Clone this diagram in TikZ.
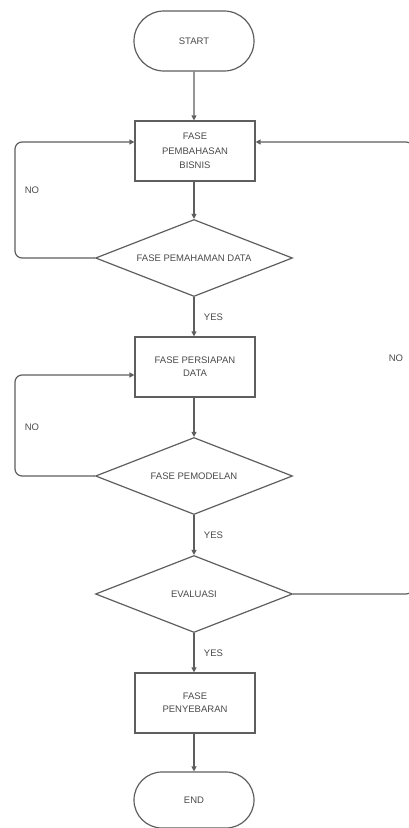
\documentclass[tikz,border=0pt]{standalone}
\usepackage{fontspec}
\setmainfont{Liberation Sans}
\usetikzlibrary{shapes.geometric,shapes.misc,arrows.meta}
\definecolor{linegray}{HTML}{5E5E5E}
\definecolor{textgray}{HTML}{4A4A4A}
\begin{document}
\begin{tikzpicture}[x=1pt,y=-1pt,
    every node/.style={font=\fontsize{9.5}{13}\selectfont, text=textgray},
    terminal/.style={draw=linegray, line width=1.2pt, rounded rectangle, minimum width=120pt, minimum height=60pt, inner sep=0pt},
    phase/.style={draw=linegray, line width=1.2pt, rectangle, minimum width=120pt, minimum height=60pt, align=center, inner sep=0pt},
    decision/.style={draw=linegray, line width=1.2pt, diamond, aspect=2.5, minimum width=197pt, minimum height=77pt, inner sep=0pt},
    flow/.style={draw=linegray, line width=1.2pt, -{Triangle[length=5pt,width=5pt]}, rounded corners=7pt}]
  \useasboundingbox (0,0) rectangle (408,828);

  % Main column
  \node[terminal] (start) at (194,41) {START};
  \node[phase] (bisnis) at (195,151) {FASE\\[1.5pt]PEMBAHASAN\\[1.5pt]BISNIS};
  \node[decision] (data) at (194,258) {FASE PEMAHAMAN DATA};
  \node[phase] (persiapan) at (195,367) {FASE PERSIAPAN\\DATA};
  \node[decision] (model) at (194,476) {FASE PEMODELAN};
  \node[decision] (eval) at (194,594) {EVALUASI};
  \node[phase] (sebar) at (195,703) {FASE\\PENYEBARAN};
  \node[terminal, minimum height=56pt] (end) at (194,800) {END};

  % Forward flow
  \draw[flow] (start) -- (start |- bisnis.north);
  \draw[flow] (bisnis.south -| data) -- (data.north);
  \draw[flow] (data.south) -- (data.south |- persiapan.north) node[midway, right=6pt] (yes1) {YES};
  \draw[flow] (persiapan.south -| model) -- (model.north);
  \draw[flow] (model.south) -- (model.north |- eval.north) node[midway, right=6pt] (yes2) {YES};
  \draw[flow] (eval.south) -- (eval.south |- sebar.north) node[midway, right=6pt] (yes3) {YES};
  \draw[flow] (sebar.south -| end) -- (end.north);

  % Loops back
  \coordinate (loopA) at (15,142);
  \coordinate (loopB) at (15,375);
  \coordinate (loopC) at (413,142);
  \draw[flow] (data.west) -| (loopA) -- (loopA -| bisnis.west);
  \draw[flow] (model.west) -| (loopB) -- (loopB -| persiapan.west);
  \draw[flow] (eval.east) -| (loopC) -- (loopC -| bisnis.east);
  \node (no1) at (32,190) {NO};
  \node (no2) at (32,427) {NO};
  \node (no3) at (396,358) {NO};
\end{tikzpicture}
\end{document}
